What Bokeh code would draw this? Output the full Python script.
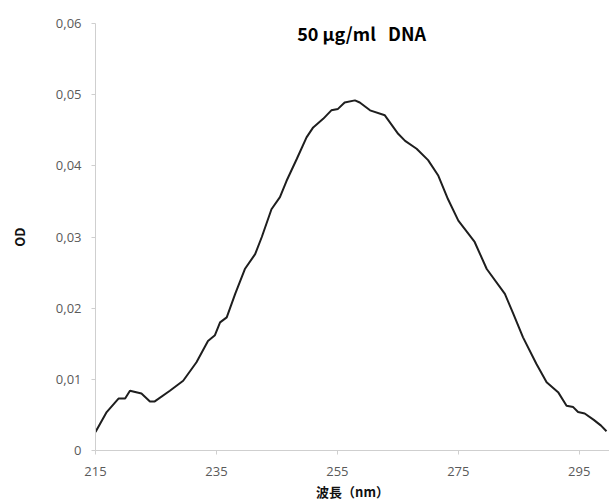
from bokeh.plotting import figure
from bokeh.models import Range1d, FixedTicker, Label
from bokeh.embed import file_html
from bokeh.resources import INLINE

# Absorbance spectrum of 50 ug/ml DNA
wavelength = [215.0, 216.85, 218.8, 219.9, 220.7, 222.6, 224.0, 224.8, 227.3, 229.5,
              231.7, 233.6, 234.75, 235.6, 236.7, 238.1, 239.7, 241.4, 242.5, 244.1,
              245.5, 246.6, 248.3, 249.9, 251.0, 252.65, 254.0, 255.1, 256.2, 257.9,
              258.7, 260.4, 262.85, 265.05, 266.2, 268.1, 270.0, 271.7, 273.3, 275.0,
              277.7, 279.7, 282.7, 284.1, 285.7, 287.9, 289.6, 291.5, 292.9, 294.0,
              294.8, 295.9, 297.4, 298.6, 299.5]
od = [0.0026, 0.0054, 0.0073, 0.0073, 0.0084, 0.0080, 0.0069, 0.0069, 0.0084, 0.0098,
      0.0124, 0.0154, 0.0162, 0.0180, 0.0187, 0.0220, 0.0255, 0.0276, 0.0300, 0.0339,
      0.0356, 0.0379, 0.0410, 0.0440, 0.0454, 0.0466, 0.0478, 0.0480, 0.0489, 0.0492,
      0.0489, 0.0478, 0.0471, 0.0445, 0.0435, 0.0424, 0.0408, 0.0386, 0.0353, 0.0323,
      0.0293, 0.0255, 0.0220, 0.0192, 0.0159, 0.0122, 0.0096, 0.0082, 0.0063, 0.0061,
      0.0054, 0.0052, 0.0043, 0.0035, 0.0027]

x_ticks = [215, 235, 255, 275, 295]
y_ticks = [0.0, 0.01, 0.02, 0.03, 0.04, 0.05, 0.06]
y_tick_labels = ["0", "0,01", "0,02", "0,03", "0,04", "0,05", "0,06"]

title_text = "50 μg/ml\u00a0\u00a0\u00a0DNA"
x_label = "波長（nm）"
y_label = "OD"

p = figure(width=609, height=504, output_backend="svg", toolbar_location=None,
           x_range=Range1d(215, 300.0), y_range=Range1d(0, 0.06),
           min_border_left=95, min_border_right=0, min_border_top=23, min_border_bottom=54)

p.outline_line_color = None
p.xgrid.visible = False
p.ygrid.visible = False
p.background_fill_color = "white"

p.line(wavelength, od, line_color="#1e1e1e", line_width=2)

axis_gray = "#cfcfcf"
label_gray = "#5a5a5a"

p.xaxis.ticker = FixedTicker(ticks=x_ticks)
p.yaxis.ticker = FixedTicker(ticks=y_ticks)
p.yaxis.major_label_overrides = {t: l for t, l in zip(y_ticks, y_tick_labels)}

for ax in (p.xaxis, p.yaxis):
    ax.axis_line_color = axis_gray
    ax.major_tick_line_color = axis_gray
    ax.minor_tick_line_color = None
    ax.major_tick_in = 0
    ax.major_tick_out = 4
    ax.major_label_text_color = label_gray
    ax.major_label_text_font = "Open Sans"
    ax.major_label_text_font_size = "13px"
    ax.axis_label_text_font = "Noto Sans CJK JP"
    ax.axis_label_text_font_style = "bold"
    ax.axis_label_text_font_size = "13px"
    ax.axis_label_text_color = "#111111"

p.xaxis.axis_label = x_label
p.yaxis.axis_label = y_label
p.xaxis.major_label_standoff = 12
p.xaxis.axis_label_standoff = 3
p.yaxis.major_label_standoff = 10
p.yaxis.axis_label_standoff = 24

p.add_layout(Label(x=259.0, y=0.0586, text=title_text, text_align="center",
                   text_baseline="middle", text_font="Noto Sans CJK JP",
                   text_font_style="bold", text_font_size="18px", text_color="#000000"))

open("out.html", "w").write(file_html(p, INLINE))
